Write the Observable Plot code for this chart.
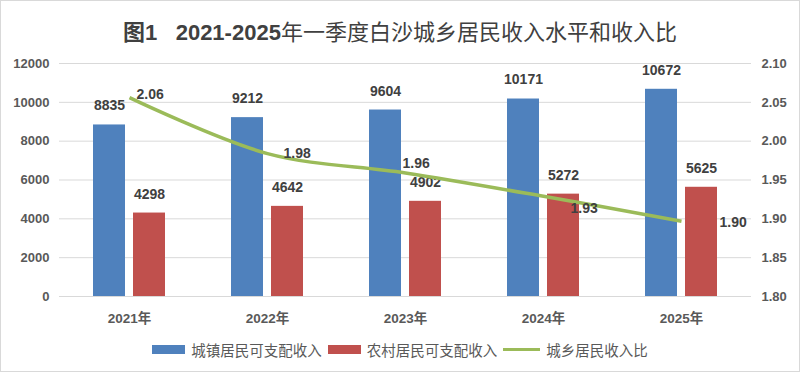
<!DOCTYPE html>
<html>
<head>
<meta charset="utf-8">
<script src="https://cdn.jsdelivr.net/npm/d3@7"></script>
<script src="https://cdn.jsdelivr.net/npm/@observablehq/plot@0.6"></script>
<style>
  html, body { margin: 0; padding: 0; background: #fff; }
  #wrap { position: relative; width: 800px; height: 374px; overflow: hidden; background: #fff; }
  #wrap::after { content: ""; position: absolute; left: 0; top: 0; width: 798px; height: 370px; border: 1px solid #d9d9d9; pointer-events: none; }
  #title { height: 40px; padding-top: 10px; display: flex; align-items: center; justify-content: center;
    font-family: "Noto Sans CJK SC", sans-serif; font-size: 22px; font-weight: 400; color: #404040; }
  #title .num { font-family: "Liberation Sans", "Noto Sans CJK SC", sans-serif; font-weight: 700; }
  #legend { height: 38px; display: flex; align-items: center; justify-content: center;
    font-family: "Noto Sans CJK SC", sans-serif; font-size: 14.5px; color: #595959; }
  #legend .item { display: flex; align-items: center; margin: 0 3px; }
  #legend .sw { display: inline-block; width: 33px; height: 9px; margin-right: 6px; }
  #legend .ln { display: inline-block; width: 37px; height: 3px; margin-right: 6px; }
  svg { display: block; }
</style>
</head>
<body>
<div id="wrap">
  <div id="title"><span><span class="num">图1&nbsp;&nbsp;&nbsp;2021-2025</span>年一季度白沙城乡居民收入水平和收入比</span></div>
  <div id="chart"></div>
  <div id="legend"></div>
</div>
<script>
// ---- data ----
const years = ["2021", "2022", "2023", "2024", "2025"];
const urbanIncome = [8835, 9212, 9604, 10171, 10672];
const ruralIncome = [4298, 4642, 4902, 5272, 5625];
const incomeRatio = [2.056, 1.984, 1.959, 1.929, 1.897];
const leftTicks = [0, 2000, 4000, 6000, 8000, 10000, 12000];
const rightTicks = [1.80, 1.85, 1.90, 1.95, 2.00, 2.05, 2.10];
const seriesNames = ["城镇居民可支配收入", "农村居民可支配收入", "城乡居民收入比"];

// ---- style ----
const colors = ["#4f81bd", "#c0504d", "#9bbb59"];
// Excel-like label nudges for ratio labels [dx, dy]
const ratioLabelNudge = [[7, -3], [16, 0], [-3, -9], [27, 12], [38, 1]];

const rows = years.map((y, i) => ({ year: y, urban: urbanIncome[i], rural: ruralIncome[i], ratio: incomeRatio[i] }));

// map secondary (ratio) axis onto primary axis units
const ratioToLeft = d3.scaleLinear().domain([1.80, 2.10]).range([0, 12000]);

const numFont = "Liberation Sans, Arial, sans-serif";

const marks = [
  Plot.ruleY(leftTicks, { stroke: "#d9d9d9", strokeWidth: 1 }),
  Plot.barY(rows, { x: "year", y: "urban", fill: colors[0], insetRight: 40 }),
  Plot.barY(rows, { x: "year", y: "rural", fill: colors[1], insetLeft: 40 }),
  Plot.text(rows, { x: "year", y: "urban", text: d => String(d.urban), dx: -20, dy: -19,
    fontSize: 14, fontWeight: "bold", fill: "#404040", fontFamily: numFont }),
  Plot.text(rows, { x: "year", y: "rural", text: d => String(d.rural), dx: 20, dy: -19,
    fontSize: 14, fontWeight: "bold", fill: "#404040", fontFamily: numFont }),
  Plot.line(rows, { x: "year", y: d => ratioToLeft(d.ratio), stroke: colors[2], strokeWidth: 3.5,
    curve: "catmull-rom", strokeLinecap: "butt" }),
  ...rows.map((r, i) => Plot.text([r], { x: "year", y: d => ratioToLeft(d.ratio), text: d => d.ratio.toFixed(2),
    textAnchor: "start", dx: ratioLabelNudge[i][0], dy: ratioLabelNudge[i][1],
    fontSize: 14, fontWeight: "bold", fill: "#404040", fontFamily: numFont })),
  Plot.axisY(leftTicks, { anchor: "left", tickSize: 0, tickPadding: 10, tickFormat: d => String(d),
    fontSize: 13, fontWeight: "bold", fill: "#595959", fontFamily: numFont, label: null }),
  Plot.axisY(rightTicks.map(t => ratioToLeft(t)), { anchor: "right", tickSize: 0, tickPadding: 10,
    tickFormat: d => ratioToLeft.invert(d).toFixed(2),
    fontSize: 13, fontWeight: "bold", fill: "#595959", fontFamily: numFont, label: null }),
  Plot.axisX({ anchor: "bottom", tickSize: 0, tickPadding: 17, tickFormat: d => d + "年",
    fontSize: 13.5, fontWeight: "bold", fill: "#595959", fontFamily: numFont + ", Noto Sans CJK SC", label: null })
];

const chart = Plot.plot({
  width: 800,
  height: 280,
  marginTop: 13,
  marginBottom: 34,
  marginLeft: 59,
  marginRight: 49,
  style: { background: "transparent", overflow: "visible" },
  x: { type: "band", domain: years, paddingInner: 0.48, paddingOuter: 0.24, label: null },
  y: { domain: [0, 12000], label: null },
  marks
});
document.getElementById("chart").appendChild(chart);

// legend
const legend = document.getElementById("legend");
seriesNames.forEach((name, i) => {
  const item = document.createElement("span");
  item.className = "item";
  const sw = document.createElement("span");
  sw.className = i < 2 ? "sw" : "ln";
  sw.style.background = colors[i];
  item.appendChild(sw);
  const t = document.createElement("span");
  t.textContent = name;
  item.appendChild(t);
  legend.appendChild(item);
});
</script>
</body>
</html>
